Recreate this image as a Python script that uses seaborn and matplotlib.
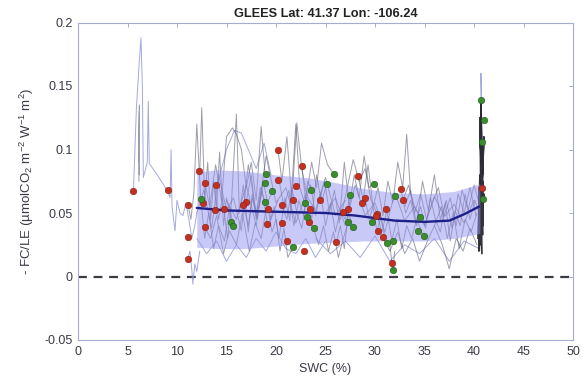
import matplotlib
matplotlib.use("Agg")
import matplotlib.pyplot as plt
import numpy as np
import pandas as pd
import seaborn as sns

# ---------------- data ----------------
title = "GLEES Lat: 41.37 Lon: -106.24"
x_label = "SWC (%)"
y_label = "- FC/LE (µmolCO$_2$ m$^{-2}$ W$^{-1}$ m$^{2}$)"
x_ticks = [0, 5, 10, 15, 20, 25, 30, 35, 40, 45, 50]
y_ticks = [-0.05, 0, 0.05, 0.1, 0.15, 0.2]
y_tick_labels = ["-0.05", "0", "0.05", "0.1", "0.15", "0.2"]

mean_swc = [12, 15, 20, 25, 28, 30, 32, 35, 37.5, 39, 40.5]
mean_fcle = [0.054, 0.052, 0.051, 0.050, 0.048, 0.046, 0.044, 0.043, 0.044, 0.049, 0.055]

band_swc = [12, 14, 17, 20, 23, 26, 29, 32, 35, 38, 40.6]
band_upper = [0.082, 0.084, 0.083, 0.080, 0.078, 0.074, 0.069, 0.066, 0.065, 0.067, 0.073]
band_lower = [0.023, 0.022, 0.022, 0.024, 0.026, 0.027, 0.028, 0.028, 0.028, 0.030, 0.034]

red_swc = [5.6, 9.1, 11.1, 11.1, 11.1, 12.2, 12.8, 13.9, 12.6, 13.8, 14.7, 12.8, 17.0, 16.7,
           19.2, 20.2, 20.2, 20.6, 21.7, 22.0, 22.6, 24.4, 23.4, 23.3, 20.6, 19.1, 21.1, 22.8,
           26.1, 28.3, 28.7, 29.0, 27.3, 26.8, 30.2, 32.6, 32.8, 31.1, 30.1, 30.3, 30.8, 31.7,
           40.8]
red_fcle = [0.067, 0.068, 0.056, 0.031, 0.014, 0.083, 0.074, 0.072, 0.058, 0.052, 0.053, 0.039,
            0.059, 0.056, 0.053, 0.100, 0.076, 0.056, 0.060, 0.071, 0.087, 0.060, 0.053, 0.043,
            0.042, 0.041, 0.028, 0.020, 0.027, 0.079, 0.058, 0.062, 0.053, 0.051, 0.049, 0.069,
            0.060, 0.053, 0.048, 0.036, 0.031, 0.011, 0.070]

green_swc = [12.4, 15.5, 15.7, 19.0, 18.9, 19.6, 18.9, 25.9, 25.2, 23.5, 22.9, 23.1, 23.8, 21.7,
             27.5, 29.9, 27.3, 27.8, 32.0, 34.5, 34.9, 34.3, 31.2, 31.8, 31.8, 29.7, 40.7, 41.0,
             40.8, 40.9]
green_fcle = [0.061, 0.043, 0.040, 0.081, 0.074, 0.067, 0.059, 0.081, 0.073, 0.068, 0.058, 0.047,
              0.038, 0.023, 0.064, 0.073, 0.043, 0.039, 0.063, 0.047, 0.032, 0.036, 0.026, 0.028,
              0.005, 0.043, 0.139, 0.123, 0.106, 0.061]

# individual dry-down traces (swc, fc/le)
trace_e1 = ([5.6, 5.9, 6.2, 6.36, 6.5, 6.6, 7.0, 7.1, 7.2, 8.0, 9.0],
            [0.067, 0.133, 0.17, 0.188, 0.15, 0.078, 0.09, 0.138, 0.089, 0.08, 0.068])
trace_e2 = ([6.15, 6.2, 6.15, 6.2, 6.18],
            [0.075, 0.135, 0.09, 0.13, 0.08])
trace_e3 = ([9.0, 9.3, 9.4, 9.5, 9.8, 10.0, 10.3, 10.6, 10.9, 11.2, 11.5, 11.8, 12.0],
            [0.068, 0.062, 0.100, 0.055, 0.036, 0.060, 0.050, 0.048, 0.058, 0.045, 0.030, 0.040, 0.050])
trace_e4 = ([11.1, 11.3, 11.5, 11.6, 11.8, 12.0, 12.3],
            [0.014, 0.020, 0.005, -0.006, 0.010, 0.004, 0.020])
trace_d01 = ([12.3, 12.5, 12.8, 13.1, 13.4, 13.7, 14.0, 14.3, 14.7, 15.0, 15.5],
             [0.082, 0.133, 0.060, 0.090, 0.045, 0.075, 0.052, 0.098, 0.040, 0.062, 0.043])
trace_d02 = ([12.8, 13.3, 13.9, 14.5, 15.0, 15.6, 16.0, 16.5, 17.0, 17.5, 18.0, 18.5, 18.9],
             [0.074, 0.055, 0.088, 0.060, 0.110, 0.117, 0.112, 0.100, 0.070, 0.090, 0.060, 0.118, 0.081])
trace_d03 = ([13.8, 14.2, 14.6, 15.1, 15.5, 16.0, 16.3, 16.7, 17.2, 17.6, 18.1, 18.7],
             [0.073, 0.045, 0.062, 0.030, 0.058, 0.128, 0.050, 0.072, 0.035, 0.065, 0.045, 0.073])
trace_d04 = ([11.1, 11.4, 11.7, 12.0, 12.4, 12.8, 13.2, 13.7, 14.2, 14.8, 15.3, 15.7],
             [0.057, 0.045, 0.065, 0.120, 0.061, 0.030, 0.050, 0.022, 0.040, 0.028, 0.055, 0.040])
trace_d05 = ([12.8, 13.4, 14.0, 14.7, 15.3, 16.0, 16.6, 17.3, 17.9, 18.5, 19.1, 19.6],
             [0.039, 0.030, 0.048, 0.018, 0.036, 0.025, 0.050, 0.020, 0.042, 0.030, 0.058, 0.066])
trace_d06 = ([17.0, 17.5, 18.0, 18.6, 19.2, 19.8, 20.3, 20.9, 21.4, 22.0, 22.4, 22.9],
             [0.059, 0.080, 0.045, 0.068, 0.038, 0.055, 0.030, 0.062, 0.044, 0.120, 0.070, 0.058])
trace_d07 = ([16.7, 17.2, 17.6, 18.0, 18.4, 18.9],
             [0.056, 0.040, 0.062, 0.048, 0.070, 0.059])
trace_d08 = ([20.2, 20.6, 21.1, 21.6, 22.1, 22.6, 23.1, 23.6, 24.1, 24.6, 25.2, 25.8],
             [0.100, 0.075, 0.110, 0.060, 0.121, 0.085, 0.065, 0.090, 0.070, 0.105, 0.088, 0.081])
trace_d09 = ([20.3, 20.8, 21.3, 21.8, 22.3, 22.8, 23.2, 23.6],
             [0.076, 0.055, 0.068, 0.040, 0.060, 0.048, 0.075, 0.068])
trace_d10 = ([19.2, 19.6, 20.0, 20.4, 20.8, 21.2, 21.7],
             [0.053, 0.035, 0.045, 0.020, 0.038, 0.015, 0.023])
trace_d11 = ([20.6, 21.1, 21.6, 22.1, 22.6, 23.1, 23.6, 24.1, 24.6, 25.1],
             [0.056, 0.045, 0.070, 0.050, 0.038, 0.062, 0.045, 0.080, 0.058, 0.073])
trace_d12 = ([22.6, 23.0, 23.5, 24.0, 24.5, 25.0, 25.5, 26.0, 26.5, 27.0, 27.5],
             [0.087, 0.060, 0.072, 0.048, 0.066, 0.040, 0.058, 0.035, 0.052, 0.045, 0.064])
trace_d13 = ([23.3, 23.8, 24.3, 24.8, 25.3, 25.8, 26.3, 26.8, 27.3],
             [0.043, 0.038, 0.025, 0.040, 0.020, 0.035, 0.015, 0.030, 0.043])
trace_d14 = ([24.4, 24.9, 25.4, 25.9, 26.4, 26.9, 27.4, 27.9, 28.4, 28.9, 29.4, 29.8],
             [0.060, 0.075, 0.050, 0.068, 0.042, 0.090, 0.055, 0.080, 0.062, 0.095, 0.070, 0.073])
trace_d15 = ([26.1, 26.5, 26.9, 27.3, 27.8],
             [0.027, 0.040, 0.022, 0.050, 0.039])
trace_d16 = ([28.3, 28.8, 29.3, 29.8, 30.3, 30.8, 31.3, 31.8, 32.3, 32.8, 33.2, 33.6, 34.0, 34.5],
             [0.079, 0.060, 0.088, 0.055, 0.070, 0.048, 0.075, 0.058, 0.090, 0.070, 0.112, 0.065, 0.055, 0.047])
trace_d17 = ([29.0, 29.4, 29.8, 30.2, 30.6, 31.0, 31.2],
             [0.062, 0.045, 0.055, 0.035, 0.048, 0.030, 0.026])
trace_d18 = ([30.2, 30.7, 31.2, 31.7, 32.2, 32.7, 33.2, 33.7, 34.2, 34.9],
             [0.049, 0.035, 0.052, 0.028, 0.045, 0.022, 0.040, 0.030, 0.045, 0.032])
trace_d19 = ([32.6, 33.1, 33.6, 34.1, 34.6, 35.1, 35.6, 36.1, 36.6, 37.1, 37.6, 38.1, 38.6, 39.1, 39.6, 40.1, 40.5],
             [0.069, 0.050, 0.060, 0.042, 0.055, 0.038, 0.062, 0.045, 0.035, 0.058, 0.028, 0.052, 0.040, 0.065, 0.045, 0.060, 0.050])
trace_d20 = ([31.5, 31.7, 31.8, 32.0],
             [0.025, 0.011, 0.005, 0.020])
trace_d21 = ([30.8, 31.5, 32.3, 33.0, 33.8, 34.5, 35.3, 36.0, 36.8, 37.5, 38.2, 38.9, 39.6, 40.3],
             [0.031, 0.020, 0.035, 0.018, 0.030, 0.012, 0.028, 0.040, 0.025, 0.006, 0.030, 0.020, 0.038, 0.025])
trace_d22 = ([32.8, 33.4, 34.0, 34.6, 35.2, 35.8, 36.4, 37.0, 37.6, 38.2, 38.8, 39.4, 40.0, 40.5, 40.9],
             [0.060, 0.072, 0.050, 0.065, 0.045, 0.058, 0.070, 0.048, 0.062, 0.040, 0.068, 0.052, 0.072, 0.058, 0.061])
trace_d23 = ([12.0, 12.7, 13.5, 14.2, 15.0, 15.7, 16.5, 17.2, 18.0, 18.7, 19.5, 20.2],
             [0.050, 0.068, 0.038, 0.080, 0.052, 0.062, 0.036, 0.088, 0.050, 0.075, 0.045, 0.060])
trace_d24 = ([15.0, 16.0, 17.0, 18.0, 19.0, 20.0, 21.0, 22.0, 23.0, 24.0, 25.0, 26.0, 27.0],
             [0.060, 0.045, 0.072, 0.040, 0.095, 0.058, 0.070, 0.042, 0.065, 0.052, 0.078, 0.048, 0.060])
trace_d25 = ([25, 26, 27, 28, 29, 30, 31, 32, 33, 34, 35, 36, 37, 38, 39, 40],
             [0.050, 0.062, 0.040, 0.072, 0.048, 0.058, 0.035, 0.066, 0.044, 0.055, 0.040, 0.063, 0.047, 0.057, 0.042, 0.060])
trace_d26 = ([33.0, 33.6, 34.2, 34.8, 35.4, 36.0, 36.6, 37.2, 37.8, 38.4, 39.0, 39.6, 40.2],
             [0.055, 0.068, 0.040, 0.075, 0.052, 0.080, 0.045, 0.060, 0.038, 0.065, 0.050, 0.070, 0.048])
trace_d27 = ([26.5, 27.2, 27.8, 28.4, 29.0, 29.6, 30.2],
             [0.045, 0.070, 0.092, 0.075, 0.085, 0.060, 0.050])
trace_d28 = ([36.0, 36.7, 37.3, 37.9, 38.5, 39.1, 39.7, 40.3],
             [0.040, 0.055, 0.030, 0.050, 0.022, 0.045, 0.035, 0.050])
trace_l1 = ([12.0, 13.0, 14.0, 15.0, 16.0, 17.0, 18.0, 19.0, 20.0, 21.0, 22.0, 23.0, 24.0, 25.0],
            [0.030, 0.018, 0.028, 0.012, 0.025, 0.015, 0.030, 0.020, 0.035, 0.022, 0.018, 0.030, 0.015, 0.028])
trace_l2 = ([24.0, 25.5, 27.0, 28.5, 30.0, 31.5, 33.0, 34.5, 36.0, 37.5, 39.0, 40.5],
            [0.030, 0.018, 0.028, 0.015, 0.032, 0.012, 0.025, 0.018, 0.030, 0.012, 0.028, 0.022])
trace_u1 = ([14.0, 15.0, 15.8, 16.5, 17.2, 18.0, 18.8, 19.5],
            [0.070, 0.100, 0.115, 0.113, 0.100, 0.085, 0.105, 0.080])
trace_v1 = ([40.4, 40.6, 40.7, 40.5, 40.8, 40.7, 40.5, 40.9, 40.7, 41.0, 40.5, 40.7, 40.9, 40.6, 40.5, 40.9, 40.7, 41.0, 40.6, 40.5, 40.8, 40.6, 40.9, 40.7, 40.8, 40.6, 40.9, 40.7],
            [0.030, 0.080, 0.025, 0.070, 0.035, 0.085, 0.022, 0.075, 0.040, 0.065, 0.028, 0.082, 0.033, 0.060, 0.020, 0.095, 0.045, 0.110, 0.030, 0.062, 0.018, 0.120, 0.050, 0.140, 0.060, 0.125, 0.040, 0.100])
trace_v2 = ([40.6, 40.7, 40.8, 40.7, 40.8, 40.7, 40.9, 40.8],
            [0.060, 0.140, 0.090, 0.160, 0.100, 0.125, 0.080, 0.106])

light_traces = [trace_e1, trace_e3, trace_e4, trace_u1, trace_l1, trace_l2, trace_v2]
grey_traces = [trace_e2, trace_d01, trace_d02, trace_d03, trace_d04, trace_d05, trace_d06,
               trace_d07, trace_d08, trace_d09, trace_d10, trace_d11, trace_d12, trace_d13,
               trace_d14, trace_d15, trace_d16, trace_d17, trace_d18, trace_d19, trace_d20,
               trace_d21, trace_d22, trace_d23, trace_d24, trace_d25, trace_d26, trace_d27,
               trace_d28]
dark_traces = [trace_v1]


def to_frame(traces):
    rows = []
    for i, (xs, ys) in enumerate(traces):
        for j, (xv, yv) in enumerate(zip(xs, ys)):
            rows.append({"swc": xv, "fcle": yv, "trace": i, "order": j})
    return pd.DataFrame(rows)


# ---------------- drawing ----------------
sns.set_theme(style="white")
plt.rcParams["font.family"] = ["Liberation Sans", "DejaVu Sans"]
plt.rcParams["mathtext.fontset"] = "custom"
plt.rcParams["mathtext.rm"] = "Liberation Sans"
plt.rcParams["mathtext.it"] = "Liberation Sans:italic"

fig = plt.figure(figsize=(5.86, 3.81), dpi=100)
ax = fig.add_axes([78 / 586, 1 - 340 / 381, (573 - 78) / 586, (340 - 22.5) / 381])

ax.axhline(0, color="#3c3c44", lw=1.6, ls=(0, (4, 3)), zorder=1)

sns.lineplot(data=to_frame(light_traces), x="swc", y="fcle", units="trace", estimator=None,
             sort=False, color="#8f93d6", lw=0.7, alpha=0.8, ax=ax, zorder=2)
sns.lineplot(data=to_frame(grey_traces), x="swc", y="fcle", units="trace", estimator=None,
             sort=False, color="#5c5e72", lw=0.7, alpha=0.6, ax=ax, zorder=2)
sns.lineplot(data=to_frame(dark_traces), x="swc", y="fcle", units="trace", estimator=None,
             sort=False, color="#1c1c22", lw=1.2, alpha=0.9, ax=ax, zorder=2)

ax.fill_between(band_swc, band_lower, band_upper, color="#9494f0", alpha=0.5, lw=0, zorder=3)

sns.lineplot(x=mean_swc, y=mean_fcle, color="#1d1f8a", lw=1.7, ax=ax, zorder=5)

sns.scatterplot(x=red_swc, y=red_fcle, color="#c4301f", edgecolor="#8a1c10", linewidth=0.4,
                s=22, ax=ax, zorder=6)
sns.scatterplot(x=green_swc, y=green_fcle, color="#3a8c2c", edgecolor="#1f5c18", linewidth=0.4,
                s=22, ax=ax, zorder=6)

ax.set_xlim(0, 50)
ax.set_ylim(-0.05, 0.2)
ax.set_xticks(x_ticks)
ax.set_xticklabels([str(t) for t in x_ticks])
ax.set_yticks(y_ticks)
ax.set_yticklabels(y_tick_labels)
ax.tick_params(direction="in", length=3, width=0.6, color="#9aa0c8", labelsize=9,
               labelcolor="#3a3a46", top=True, right=True, pad=4)
for sp in ax.spines.values():
    sp.set_color("#a6abd2")
    sp.set_linewidth(0.8)

ax.set_xlabel(x_label, fontsize=9, color="#3a3a46", labelpad=4)
ax.set_ylabel(y_label, fontsize=9.5, color="#3a3a46", labelpad=6)
ax.set_title(title, fontsize=9.2, fontweight="bold", color="#222222", pad=4)

fig.savefig("out.png", dpi=100)
